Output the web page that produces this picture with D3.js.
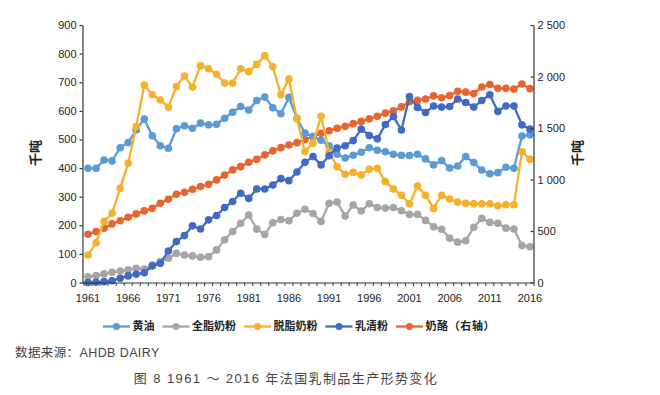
<!DOCTYPE html>
<html>
<head>
<meta charset="utf-8">
<script src="https://cdn.jsdelivr.net/npm/d3@7"></script>
<style>
  html, body { margin: 0; padding: 0; background: #fff; }
  svg { display: block; }
  .num { font-family: "Liberation Sans", Arial, sans-serif; }
  .cjk { font-family: "Noto Sans CJK SC", "Liberation Sans", sans-serif; }
  .mix { font-family: "Liberation Sans", "Noto Sans CJK SC", sans-serif; }
</style>
</head>
<body>
<svg id="chart" width="660" height="395"></svg>
<script>
const years = d3.range(1961, 2017);
const xTickLabels = ["1961","1966","1971","1976","1981","1986","1991","1996","2001","2006","2011","2016"];
const leftTicks = [0,100,200,300,400,500,600,700,800,900];
const rightTicks = [0,500,1000,1500,2000,2500];
const rightTickLabels = ["0","500","1 000","1 500","2 000","2 500"];

const seriesNames = ["黄油","全脂奶粉","脱脂奶粉","乳清粉","奶酪（右轴）"];

const butter = [399,399,428,425,471,489,533,571,513,478,469,537,548,539,557,551,553,574,595,615,
  603,636,648,611,590,647,574,522,510,497,478,448,435,445,455,471,462,457,448,445,
  444,448,432,411,426,400,407,440,419,393,380,384,403,399,512,516];
const wholeMilkPowder = [20,24,30,36,40,44,50,47,61,73,85,102,96,93,88,90,114,149,178,207,
  236,187,168,209,220,216,242,256,241,213,277,281,232,271,250,275,262,260,262,251,
  238,238,217,195,186,155,141,146,193,224,210,207,190,187,129,125];
const skimMilkPowder = [96,139,213,242,329,417,545,690,656,638,613,685,722,683,758,747,728,697,697,747,
  737,763,792,755,656,711,572,458,487,581,456,405,378,385,376,396,399,353,327,305,
  275,337,305,259,305,292,281,277,275,275,275,268,272,272,457,431];
const wheyPowder = [0,1,3,6,15,23,29,34,58,67,110,143,164,198,187,219,234,262,283,312,
  294,327,327,341,363,356,386,420,440,411,443,470,478,496,536,514,502,552,580,533,
  650,612,594,617,613,615,641,629,613,636,656,598,617,617,551,536];
const cheese = [469,494,527,569,600,633,666,695,720,769,808,857,876,905,931,954,996,1044,1093,1125,
  1168,1197,1239,1278,1309,1335,1358,1388,1416,1449,1474,1497,1516,1542,1564,1589,1613,1644,1666,1705,
  1755,1768,1782,1812,1793,1815,1857,1848,1834,1898,1922,1885,1885,1877,1927,1882];

const colors = ["#5B9BD5","#A5A5A5","#F5B02C","#4169C6","#E8652F"];

const svg = d3.select("#chart");
svg.append("rect").attr("width",660).attr("height",395).attr("fill","#fff");

const plotL = 82.5, plotR = 533.5, plotT = 25, plotB = 282.5;
const x = d3.scalePoint().domain(years).range([88, 530]);
const step = x.step();
const yL = d3.scaleLinear().domain([0,900]).range([plotB, plotT]);
const yR = d3.scaleLinear().domain([0,2500]).range([plotB, plotT]);

// Series
const series = [
  {name: seriesNames[4], values: cheese, color: colors[4], y: yR},
  {name: seriesNames[0], values: butter, color: colors[0], y: yL},
  {name: seriesNames[1], values: wholeMilkPowder, color: colors[1], y: yL},
  {name: seriesNames[2], values: skimMilkPowder, color: colors[2], y: yL},
  {name: seriesNames[3], values: wheyPowder, color: colors[3], y: yL}
];

const gS = svg.append("g");
series.forEach(s => {
  const line = d3.line().x((d,i) => x(years[i])).y(d => s.y(d));
  gS.append("path").attr("d", line(s.values)).attr("fill","none")
    .attr("stroke", s.color).attr("stroke-width", 2.3).attr("stroke-linejoin","round");
  gS.append("g").selectAll("circle").data(s.values).join("circle")
    .attr("cx",(d,i) => x(years[i])).attr("cy", d => s.y(d)).attr("r", 3.8)
    .attr("fill", s.color);
});

// Left axis
const axL = svg.append("g").attr("transform",`translate(${plotL},0)`)
  .call(d3.axisLeft(yL).tickValues(leftTicks).tickSize(3).tickSizeOuter(0).tickPadding(3));
axL.selectAll("path,line").attr("stroke","#333").attr("stroke-width",1.2);
axL.selectAll("text").attr("class","num").attr("font-size",11).attr("fill","#222");

// Right axis
const axR = svg.append("g").attr("transform",`translate(${plotR},0)`)
  .call(d3.axisRight(yR).tickValues(rightTicks).tickSizeInner(-3).tickSizeOuter(0).tickPadding(4)
    .tickFormat((d,i) => rightTickLabels[i]));
axR.selectAll("path,line").attr("stroke","#333").attr("stroke-width",1.2);
axR.selectAll("text").attr("class","num").attr("font-size",11).attr("fill","#222");

// Bottom axis
const gB = svg.append("g");
gB.append("line").attr("x1",plotL-0.6).attr("x2",plotR+0.6).attr("y1",plotB+0.5).attr("y2",plotB+0.5)
  .attr("stroke","#333").attr("stroke-width",1.2);
const bounds = years.map(yv => x(yv) - step/2).concat([x(years[years.length-1]) + step/2]);
gB.selectAll("line.tk").data(bounds).join("line").attr("class","tk")
  .attr("x1",d=>d).attr("x2",d=>d).attr("y1",plotB+0.5).attr("y2",plotB+3.5)
  .attr("stroke","#333").attr("stroke-width",1);
gB.selectAll("text").data(xTickLabels).join("text").attr("class","num")
  .attr("x", d => x(+d)).attr("y", 302).attr("text-anchor","middle")
  .attr("font-size",11).attr("fill","#222").text(d => d);

// Axis titles
svg.append("text").attr("class","cjk").attr("transform","translate(40,153) rotate(-90)")
  .attr("text-anchor","middle").attr("font-size",13).attr("font-weight","bold").attr("fill","#222").text("千吨");
svg.append("text").attr("class","cjk").attr("transform","translate(582,153) rotate(-90)")
  .attr("text-anchor","middle").attr("font-size",13).attr("font-weight","bold").attr("fill","#222").text("千吨");

// Legend
const legendOrder = [0,1,2,3,4];
const gLeg = svg.append("g");
let lx = 103;
const ly = 326.5;
legendOrder.forEach(k => {
  const g = gLeg.append("g");
  g.append("line").attr("x1",lx).attr("x2",lx+27).attr("y1",ly).attr("y2",ly)
    .attr("stroke",colors[k]).attr("stroke-width",2.3);
  g.append("circle").attr("cx",lx+13.5).attr("cy",ly).attr("r",3.5).attr("fill",colors[k]);
  const t = g.append("text").attr("class","cjk").attr("x",lx+29.5).attr("y",ly)
    .attr("dy","0.36em").attr("font-size",11).attr("font-weight","bold").attr("fill","#222")
    .attr("letter-spacing", k === 4 ? 0.6 : 0).text(seriesNames[k]);
  lx += 29.5 + t.node().getComputedTextLength() + 8;
});

// Source and caption
svg.append("text").attr("class","mix").attr("x",15).attr("y",352).attr("dy","0.36em")
  .attr("font-size",12.5).attr("letter-spacing",0.4).attr("fill","#444").text("数据来源：AHDB DAIRY");
svg.append("text").attr("class","mix").attr("x",286).attr("y",378).attr("dy","0.36em")
  .attr("text-anchor","middle").attr("font-size",13).attr("letter-spacing",1.4)
  .attr("fill","#444").text("图 8 1961 ～ 2016 年法国乳制品生产形势变化");
</script>
</body>
</html>
